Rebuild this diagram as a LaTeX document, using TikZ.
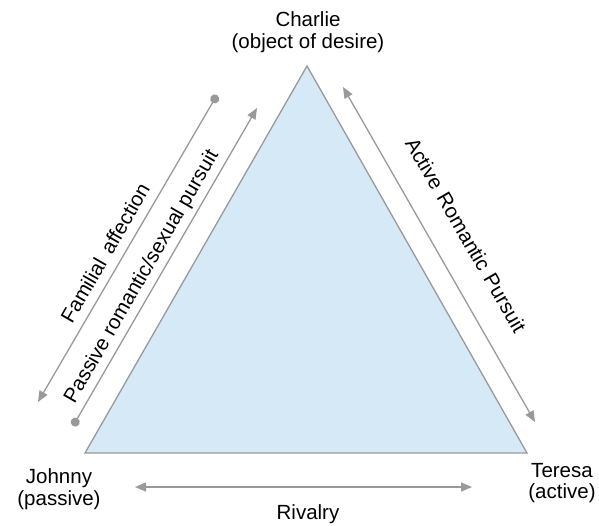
\documentclass[tikz,border=0pt]{standalone}
\usepackage{fontspec}
\setmainfont{Liberation Sans}
\usetikzlibrary{arrows.meta}
\definecolor{edgegray}{HTML}{999999}
\definecolor{trifill}{HTML}{D6E9F6}
\tikzset{
  lbl/.style={font=\fontsize{20.5}{21.5}\selectfont, align=center, inner sep=0pt},
  rel/.style={draw=edgegray, line width=1.3pt},
  bothtips/.style={{Triangle[length=11pt,width=9pt]}-{Triangle[length=11pt,width=9pt]}},
  dottip/.style={{Circle[length=9pt]}-{Triangle[length=11pt,width=9pt]}},
}
\begin{document}
\begin{tikzpicture}[x=1pt,y=-1pt]
\useasboundingbox (0,0) rectangle (599,525);
% corners of the triangle
\coordinate (J) at (85,453);
\coordinate (C) at (307,66);
\coordinate (T) at (527,453);
\filldraw[fill=trifill, draw=edgegray, line width=1.3pt, line join=miter] (J) -- (C) -- (T) -- cycle;

% character labels
\node[lbl] (charlie) at (308,32) {Charlie\\(object of desire)};
\node[lbl] (johnny) at (59,489) {Johnny\\(passive)};
\node[lbl] (teresa) at (562,483) {Teresa\\(active)};

% arrow end points
\coordinate (fa1) at (217,95);
\coordinate (fa2) at (38,402);
\coordinate (pp1) at (73,426);
\coordinate (pp2) at (257,108);
\coordinate (ar1) at (343,87);
\coordinate (ar2) at (535,422);
\coordinate (rv1) at (135,487);
\coordinate (rv2) at (472,487);

% relationship arrows
\draw[rel, dottip] (fa1) -- (fa2);
\draw[rel, dottip] (pp1) -- (pp2);
\draw[rel, bothtips] (ar1) -- (ar2);
\draw[rel, bothtips] (rv1) -- (rv2);

% relationship labels
\node[lbl, rotate=60] (famlbl) at (105,253) {Familial\hspace{0.45em}affection};
\node[lbl, rotate=60] (paslbl) at (142,277) {Passive romantic/sexual pursuit};
\node[lbl, rotate=-60] (actlbl) at (466,235) {Active\hspace{0.35em}Romantic\hspace{0.35em}Pursuit};
\node[lbl] (rivlbl) at (308,514) {Rivalry};
\end{tikzpicture}
\end{document}
